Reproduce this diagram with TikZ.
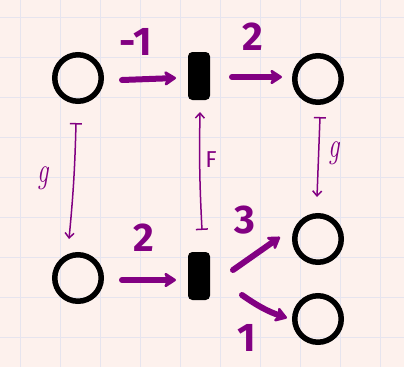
\documentclass[tikz,border=0pt]{standalone}
\usepackage{fontspec}
\usepackage{graphicx}
\setsansfont{Fira Sans}
\usetikzlibrary{arrows.meta}
\definecolor{bgpink}{HTML}{FDF1ED}
\definecolor{gridc}{HTML}{E6E4EE}
\definecolor{pur}{HTML}{820082}
\tikzset{
  place/.style={circle, draw=black, line width=5.5pt, minimum size=46.5pt, inner sep=0pt},
  trans/.style={rectangle, draw=black, fill=black, line width=1pt, rounded corners=4pt, minimum width=21pt, minimum height=47pt, inner sep=0pt},
  bigarrow/.style={draw=pur, line width=6pt, line cap=round, -{Stealth[round,length=14pt,width=18pt,inset=4pt]}},
  thinarrow/.style={draw=pur, line width=1.5pt, {Bar[width=12pt,line width=1.5pt]}-{Straight Barb[length=5pt,width=9pt,line width=1.5pt]}},
  numlab/.style={text=pur, font=\sffamily\bfseries\fontsize{40}{40}\selectfont, inner sep=0pt},
  smalllab/.style={text=pur, inner sep=0pt},
  glab/.style={text=pur, inner sep=0pt, font=\itshape\fontsize{36}{36}\selectfont}
}
\begin{document}
\begin{tikzpicture}[x=1pt,y=-1pt]
\useasboundingbox (0,0) rectangle (404,367);
\fill[bgpink] (0,0) rectangle (404,367);
\foreach \x in {20,60,...,380} \draw[gridc, line width=1pt] (\x,0) -- (\x,367);
\foreach \y in {17,57,...,337} \draw[gridc, line width=1pt] (0,\y) -- (404,\y);

\node[place] (p1) at (78,78) {};
\node[place] (p2) at (318,79) {};
\node[place] (p3) at (78,278) {};
\node[place] (p4) at (318,239) {};
\node[place] (p5) at (318,319) {};
\node[trans] (t1) at (199,76) {};
\node[trans] (t2) at (199,276) {};

\draw[bigarrow] ([shift={(18,2)}]p1.east) -- ([shift={(-12,2)}]t1.west);
\draw[bigarrow] ([shift={(22,1)}]t1.east) -- ([shift={(-10,-2)}]p2.west);
\draw[bigarrow] ([shift={(18,2)}]p3.east) -- ([shift={(-12,4)}]t2.west);
\draw[bigarrow] ([shift={(23,-6)}]t2.east) -- ([shift={(-12,-2)}]p4.west);
\draw[bigarrow] ([shift={(32,19)}]t2.east) to[bend right=8] ([shift={(-5,-1)}]p5.west);

\draw[thinarrow] ([shift={(-2,19)}]p1.south) to[bend left=2] ([shift={(-9,-13)}]p3.north);
\draw[thinarrow] ([shift={(3,-22)}]t2.north) to[bend left=2] ([shift={(1,12)}]t1.south);
\draw[thinarrow] ([shift={(2,12)}]p2.south) -- ([shift={(-1,-16)}]p4.north);

\node[numlab] (l1) at (136,42) {-1};
\node[numlab] (l2) at (253,37) {2};
\node[numlab] (l3) at (144,238) {2};
\node[numlab] (l4) at (245,220) {3};
\node[numlab] (l5) at (247,338) {1};
\node[smalllab, font=\sffamily\fontsize{23}{23}\selectfont] (lF) at (211,160) {F};
\node[glab] (lg1) at (43,178) {\scalebox{0.7}[1]{g}};
\node[glab] (lg2) at (334,153) {\scalebox{0.7}[1]{g}};
\end{tikzpicture}
\end{document}
